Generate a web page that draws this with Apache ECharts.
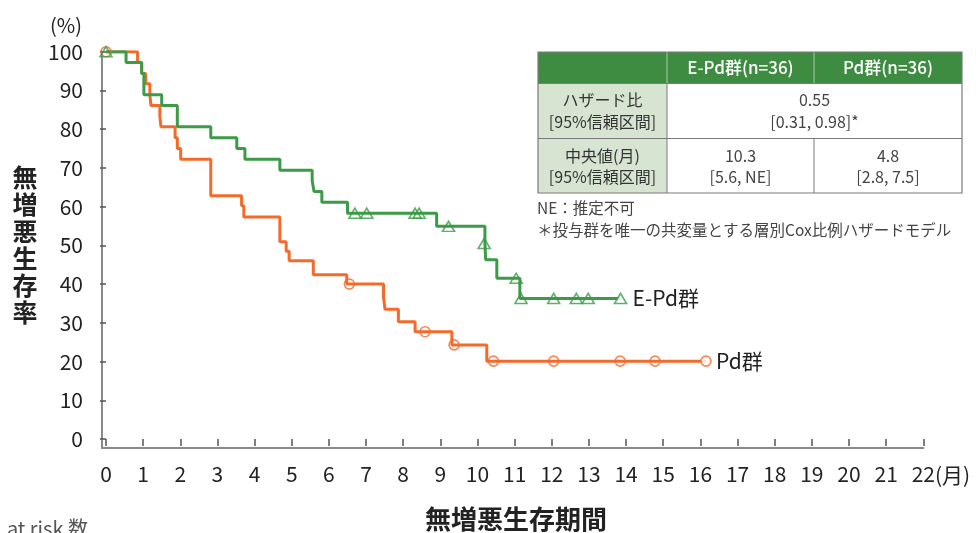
<!DOCTYPE html>
<html>
<head>
<meta charset="utf-8">
<script src="https://cdn.jsdelivr.net/npm/echarts@6/dist/echarts.min.js"></script>
<style>
  html, body { margin: 0; padding: 0; background: #ffffff; }
  #chart { width: 976px; height: 533px; }
</style>
</head>
<body>
<div id="chart"></div>
<script>
// Kaplan–Meier progression-free survival, two treatment arms (months, %)
const epdName = 'E-Pd群';
const epdTimes = [0, 0.54, 0.96, 1.02, 1.50, 1.92, 2.82, 3.52, 3.74, 4.68, 5.55, 5.60, 5.81, 6.50, 8.90, 10.20, 10.22, 10.52, 11.14, 13.85];
const epdSurv  = [100, 97.2, 94.4, 88.9, 86.1, 80.6, 77.8, 75.0, 72.2, 69.4, 66.7, 63.9, 61.1, 58.3, 54.9, 50.5, 46.3, 41.5, 36.3, 36.3];
const epdCensorTimes = [0, 6.70, 7.02, 8.32, 8.43, 9.22, 10.18, 11.04, 11.17, 12.05, 12.66, 12.98, 13.85];
const epdCensorSurv  = [100, 58.3, 58.3, 58.3, 58.3, 54.9, 50.5, 41.5, 36.3, 36.3, 36.3, 36.3, 36.3];

const pdName = 'Pd群';
const pdTimes = [0, 0.85, 0.96, 1.07, 1.18, 1.21, 1.45, 1.48, 1.86, 1.92, 2.01, 2.82, 3.65, 3.71, 4.68, 4.85, 4.93, 5.58, 6.48, 7.47, 7.51, 7.87, 8.32, 9.31, 10.25, 16.15];
const pdSurv  = [100, 97.2, 94.4, 91.7, 88.9, 86.1, 83.3, 80.6, 77.8, 75.0, 72.2, 62.8, 60.2, 57.3, 50.9, 48.5, 46.0, 42.4, 40.0, 36.7, 33.5, 30.3, 27.7, 24.3, 20.1, 20.1];
const pdCensorTimes = [0, 6.55, 8.59, 9.37, 10.43, 12.05, 13.84, 14.78, 16.15];
const pdCensorSurv  = [100, 40.0, 27.7, 24.3, 20.1, 20.1, 20.1, 20.1, 20.1];

// Axis ticks
const xTicks = [0, 22, 1];    // min, max, step (months)
const yTicks = [0, 100, 10];  // min, max, step (%)

// Summary table
const tableHeader = ['', 'E-Pd群(n=36)', 'Pd群(n=36)'];
const hrRow = ['ハザード比\n[95%信頼区間]', '0.55\n[0.31, 0.98]*'];
const medianRow = ['中央値(月)\n[95%信頼区間]', '10.3\n[5.6, NE]', '4.8\n[2.8, 7.5]'];
const notes = ['NE：推定不可', '＊投与群を唯一の共変量とする層別Cox比例ハザードモデル'];

const GREEN = '#3b9b47';
const ORANGE = '#f36a2a';
const FONT = '"Noto Sans CJK JP", "Noto Sans", sans-serif';

function pairs(xs, ys) { return xs.map((x, i) => [x, ys[i]]); }

function censorData(xs, ys, color) {
  return xs.map((x, i) => ({
    value: [x, ys[i]],
    itemStyle: {
      color: i === xs.length - 1 ? '#ffffff' : 'rgba(255,255,255,0)',
      borderColor: color,
      borderWidth: 1.6
    }
  }));
}

const chart = echarts.init(document.getElementById('chart'), null, { renderer: 'canvas' });

// table geometry (px)
const tx = [538, 667, 814, 962];
const ty = [52, 83.5, 138.5, 193];
const tableGraphics = [];
tableGraphics.push({ type: 'rect', shape: { x: tx[0], y: ty[0], width: tx[3] - tx[0], height: ty[1] - ty[0] }, style: { fill: '#3e8c41' } });
tableGraphics.push({ type: 'rect', shape: { x: tx[0], y: ty[1], width: tx[1] - tx[0], height: ty[3] - ty[1] }, style: { fill: '#d6e4d1' } });
tableGraphics.push({ type: 'rect', shape: { x: tx[1], y: ty[1], width: tx[3] - tx[1], height: ty[3] - ty[1] }, style: { fill: '#ffffff' } });
// header separators
[tx[1], tx[2]].forEach(x => tableGraphics.push({ type: 'line', shape: { x1: x, y1: ty[0], x2: x, y2: ty[1] }, style: { stroke: '#a9cfa8', lineWidth: 1 } }));
// body grid lines
tableGraphics.push({ type: 'line', shape: { x1: tx[0], y1: ty[1], x2: tx[3], y2: ty[1] }, style: { stroke: '#7a7a7a', lineWidth: 1 } });
tableGraphics.push({ type: 'line', shape: { x1: tx[0], y1: ty[2], x2: tx[3], y2: ty[2] }, style: { stroke: '#7a7a7a', lineWidth: 1 } });
tableGraphics.push({ type: 'line', shape: { x1: tx[1], y1: ty[1], x2: tx[1], y2: ty[3] }, style: { stroke: '#7a7a7a', lineWidth: 1 } });
tableGraphics.push({ type: 'line', shape: { x1: tx[2], y1: ty[2], x2: tx[2], y2: ty[3] }, style: { stroke: '#7a7a7a', lineWidth: 1 } });
tableGraphics.push({ type: 'rect', shape: { x: tx[0], y: ty[0], width: tx[3] - tx[0], height: ty[3] - ty[0] }, style: { fill: 'none', stroke: '#7a7a7a', lineWidth: 1.2 } });

function cellText(text, cx, cy, color, size, weight) {
  return {
    type: 'text', x: cx, y: cy,
    style: { text: text, fill: color, font: (weight || 'normal') + ' ' + size + 'px ' + FONT, align: 'center', verticalAlign: 'middle', lineHeight: 21.5 }
  };
}
tableGraphics.push(cellText(tableHeader[1], (tx[1] + tx[2]) / 2, 68, '#ffffff', 17, 500));
tableGraphics.push(cellText(tableHeader[2], (tx[2] + tx[3]) / 2, 68, '#ffffff', 17, 500));
tableGraphics.push(cellText(hrRow[0], (tx[0] + tx[1]) / 2, 111, '#333333', 16));
tableGraphics.push(cellText(hrRow[1], (tx[1] + tx[3]) / 2, 111, '#444444', 16));
tableGraphics.push(cellText(medianRow[0], (tx[0] + tx[1]) / 2, 166.5, '#333333', 16));
tableGraphics.push(cellText(medianRow[1], (tx[1] + tx[2]) / 2, 166.5, '#444444', 16));
tableGraphics.push(cellText(medianRow[2], (tx[2] + tx[3]) / 2, 166.5, '#444444', 16));
notes.forEach((n, i) => tableGraphics.push({
  type: 'text', x: 537, y: 208 + i * 22.5,
  style: { text: n, fill: '#444444', font: '15.5px ' + FONT, align: 'left', verticalAlign: 'middle' }
}));

const option = {
  animation: false,
  backgroundColor: '#ffffff',
  textStyle: { fontFamily: FONT },
  grid: [
    { left: 106, right: 52.7, top: 51.7, bottom: 94 },
    { left: 102, right: 52.7, top: 51.7, bottom: 85 }
  ],
  xAxis: [
    {
      gridIndex: 0, type: 'value', min: xTicks[0], max: xTicks[1], interval: xTicks[2],
      offset: 9,
      axisLine: { show: false },
      axisTick: { show: true, length: 7, lineStyle: { color: '#555555', width: 1.5 } },
      axisLabel: { margin: 16, color: '#222222', fontSize: 21, fontFamily: FONT },
      splitLine: { show: false }
    },
    {
      gridIndex: 1, type: 'value', min: 0, max: 1,
      axisLine: { show: true, lineStyle: { color: '#8a8a8a', width: 2 } },
      axisTick: { show: false }, axisLabel: { show: false }, splitLine: { show: false }
    }
  ],
  yAxis: [
    {
      gridIndex: 0, type: 'value', min: yTicks[0], max: yTicks[1], interval: yTicks[2],
      offset: 4,
      axisLine: { show: false },
      axisTick: { show: true, length: 6, lineStyle: { color: '#555555', width: 1.5 } },
      axisLabel: { margin: 19, color: '#222222', fontSize: 21, fontFamily: FONT },
      splitLine: { show: false }
    },
    {
      gridIndex: 1, type: 'value', min: 0, max: 1,
      axisLine: { show: true, lineStyle: { color: '#8a8a8a', width: 2 } },
      axisTick: { show: false }, axisLabel: { show: false }, splitLine: { show: false }
    }
  ],
  series: [
    {
      name: pdName, type: 'line', xAxisIndex: 0, yAxisIndex: 0, step: 'end',
      data: pairs(pdTimes, pdSurv), showSymbol: false, z: 2,
      lineStyle: { color: ORANGE, width: 3 },
      endLabel: { show: true, formatter: '{a}', distance: 10, color: '#222222', fontSize: 21, fontFamily: FONT }
    },
    {
      name: epdName, type: 'line', xAxisIndex: 0, yAxisIndex: 0, step: 'end',
      data: pairs(epdTimes, epdSurv), showSymbol: false, z: 3,
      lineStyle: { color: GREEN, width: 3 },
      endLabel: { show: true, formatter: '{a}', distance: 12, color: '#222222', fontSize: 21, fontFamily: FONT }
    },
    {
      type: 'scatter', xAxisIndex: 0, yAxisIndex: 0, z: 4,
      symbol: 'circle', symbolSize: 10,
      data: censorData(pdCensorTimes, pdCensorSurv, ORANGE)
    },
    {
      type: 'scatter', xAxisIndex: 0, yAxisIndex: 0, z: 5,
      symbol: 'triangle', symbolSize: [12, 10],
      data: censorData(epdCensorTimes, epdCensorSurv, GREEN)
    }
  ],
  graphic: [
    { type: 'text', x: 66, y: 25, style: { text: '(%)', fill: '#222222', font: '20px ' + FONT, align: 'center', verticalAlign: 'middle' } },
    { type: 'text', x: 935, y: 475, style: { text: '(月)', fill: '#222222', font: '21px ' + FONT, align: 'left', verticalAlign: 'middle' } },
    { type: 'text', x: 25, y: 245, style: { text: '無\n増\n悪\n生\n存\n率', fill: '#222222', font: 'bold 25px ' + FONT, lineHeight: 27, align: 'center', verticalAlign: 'middle' } },
    { type: 'text', x: 516, y: 519, style: { text: '無増悪生存期間', fill: '#222222', font: 'bold 26px ' + FONT, align: 'center', verticalAlign: 'middle' } },
    { type: 'text', x: 88, y: 528, style: { text: 'at risk 数', fill: '#555555', font: '20px ' + FONT, align: 'right', verticalAlign: 'middle' } }
  ].concat(tableGraphics)
};

chart.setOption(option);
</script>
</body>
</html>
